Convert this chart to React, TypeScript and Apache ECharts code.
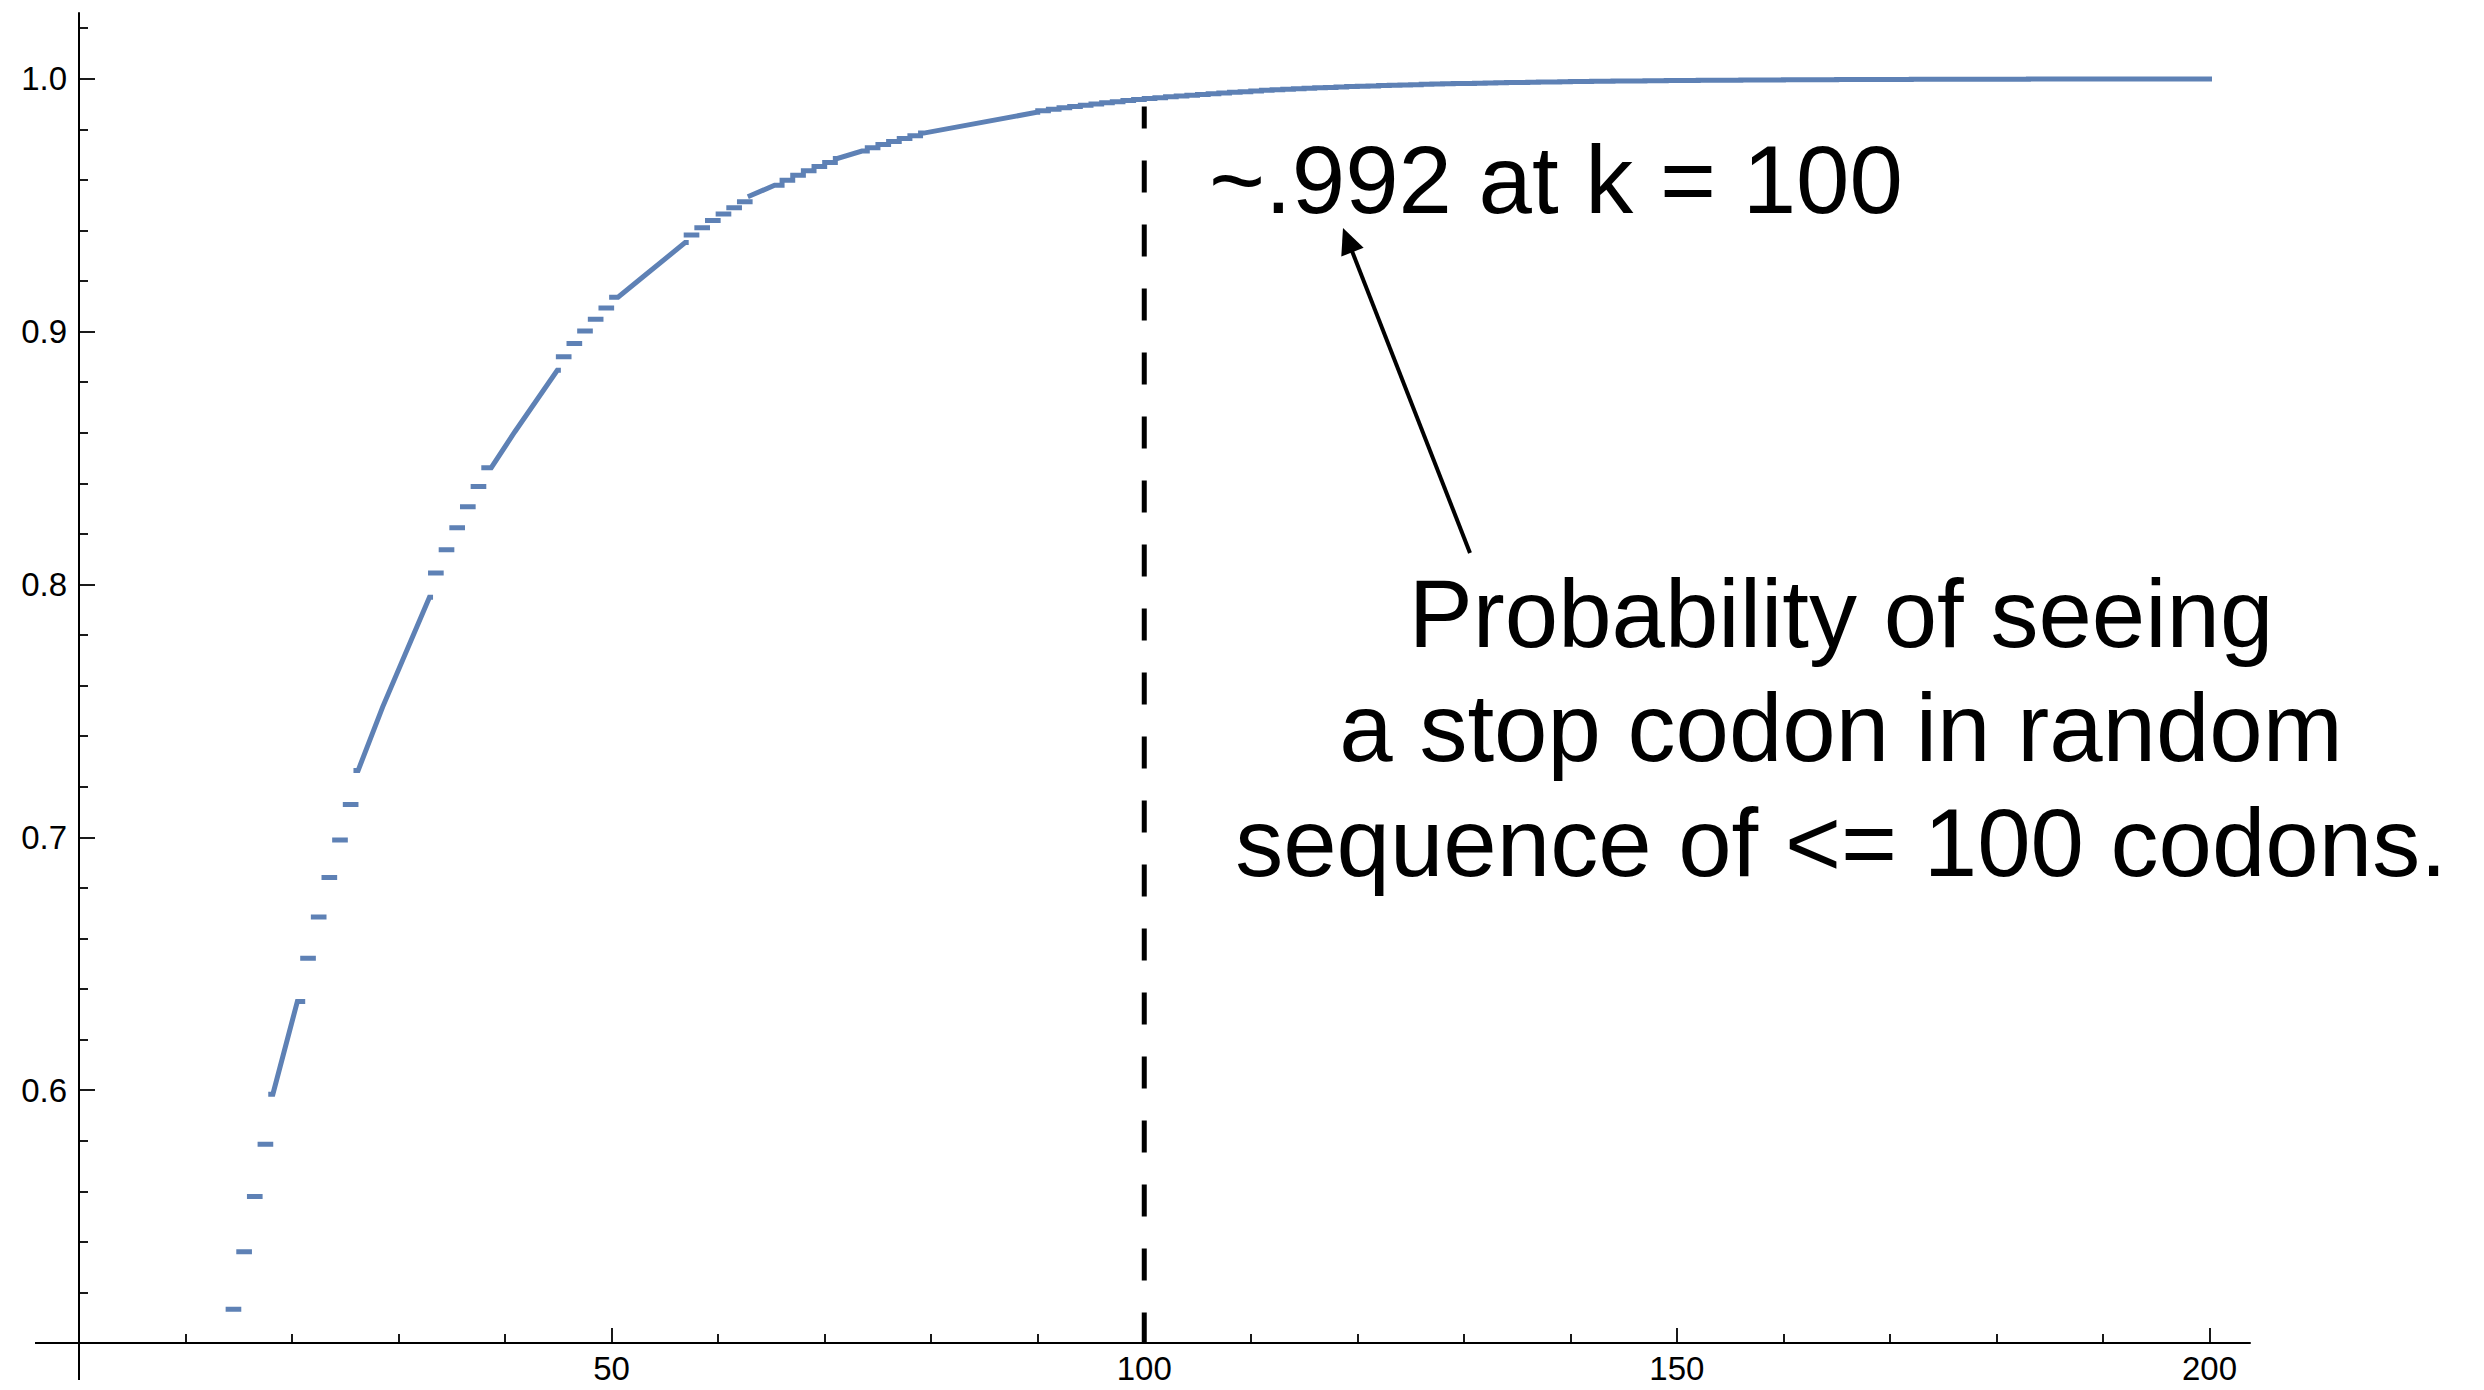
import { useEffect, useRef } from "react";
import * as echarts from "echarts";

// Probability that a random sequence of k codons contains a stop codon, k = 15 … 200
const K_FIRST = 15;
const STOP_PROB = [
  0.5133, 0.5361, 0.5579, 0.5786, 0.5984, 0.6172, 0.6351, 0.6522, 0.6685, 0.6841,
  0.6989, 0.713, 0.7264, 0.7393, 0.7515, 0.7631, 0.7742, 0.7848, 0.7949, 0.8045,
  0.8137, 0.8224, 0.8307, 0.8387, 0.8462, 0.8534, 0.8603, 0.8669, 0.8731, 0.8791,
  0.8847, 0.8901, 0.8953, 0.9002, 0.9049, 0.9093, 0.9136, 0.9176, 0.9215, 0.9252,
  0.9287, 0.932, 0.9352, 0.9382, 0.9411, 0.9439, 0.9465, 0.949, 0.9514, 0.9537,
  0.9559, 0.9579, 0.9599, 0.9618, 0.9636, 0.9653, 0.9669, 0.9685, 0.9699, 0.9714,
  0.9727, 0.974, 0.9752, 0.9764, 0.9775, 0.9785, 0.9795, 0.9805, 0.9814, 0.9823,
  0.9831, 0.9839, 0.9847, 0.9854, 0.9861, 0.9867, 0.9873, 0.9879, 0.9885, 0.989,
  0.9895, 0.99, 0.9905, 0.9909, 0.9914, 0.9918, 0.9922, 0.9925, 0.9929, 0.9932,
  0.9935, 0.9938, 0.9941, 0.9944, 0.9947, 0.9949, 0.9952, 0.9954, 0.9956, 0.9958,
  0.996, 0.9962, 0.9964, 0.9965, 0.9967, 0.9969, 0.997, 0.9971, 0.9973, 0.9974,
  0.9975, 0.9976, 0.9978, 0.9979, 0.998, 0.9981, 0.9981, 0.9982, 0.9983, 0.9984,
  0.9985, 0.9985, 0.9986, 0.9987, 0.9987, 0.9988, 0.9989, 0.9989, 0.999, 0.999,
  0.9991, 0.9991, 0.9991, 0.9992, 0.9992, 0.9993, 0.9993, 0.9993, 0.9994, 0.9994,
  0.9994, 0.9994, 0.9995, 0.9995, 0.9995, 0.9995, 0.9996, 0.9996, 0.9996, 0.9996,
  0.9996, 0.9997, 0.9997, 0.9997, 0.9997, 0.9997, 0.9997, 0.9997, 0.9998, 0.9998,
  0.9998, 0.9998, 0.9998, 0.9998, 0.9998, 0.9998, 0.9998, 0.9998, 0.9998, 0.9999,
  0.9999, 0.9999, 0.9999, 0.9999, 0.9999, 0.9999, 0.9999, 0.9999, 0.9999, 0.9999,
  0.9999, 0.9999, 0.9999, 0.9999, 0.9999, 0.9999,
];

// Stretches where the plotted curve runs straight across several steps
// (sample positions along k); elsewhere each step is drawn on its own.
const JOINED_SPANS = [
  [18.2, 20.5],
  [26.2, 28.5, 32.9],
  [38.7, 40.9, 44.9],
  [50.6, 52.9, 56.9],
  [63.05, 65.3],
  [71.2, 73.5],
  [79.3, 89.9],
];

const X_RANGE = [0, 203.8];
const Y_RANGE = [0.5, 1.026];
const X_AXIS_TAIL = -4.13; // x-axis continues a little left of the y-axis
const Y_AXIS_TAIL = 0.4854; // y-axis continues a little below the x-axis
const X_MAJOR = [50, 100, 150, 200];
const X_MINOR = [10, 20, 30, 40, 60, 70, 80, 90, 110, 120, 130, 140, 160, 170, 180, 190];
const Y_MAJOR = [0.6, 0.7, 0.8, 0.9, 1.0];
const Y_MINOR = [
  0.52, 0.54, 0.56, 0.58, 0.62, 0.64, 0.66, 0.68, 0.72, 0.74, 0.76, 0.78,
  0.82, 0.84, 0.86, 0.88, 0.92, 0.94, 0.96, 0.98, 1.02,
];

const MARKER_K = 100;
const MARKER_TOP = 0.989;

const NOTE_VALUE = "~.992 at k = 100";
const NOTE_LINES = [
  "Probability of seeing",
  "a stop codon in random",
  "sequence of <= 100 codons.",
];

const FONT = '"Liberation Sans", Arial, Helvetica, sans-serif';
const CURVE_COLOR = "#5E81B5";

function buildCurve() {
  const pts: (number[] | string)[] = [];
  const kLast = K_FIRST + STOP_PROB.length - 1;
  const probAt = (k: number) => STOP_PROB[k - K_FIRST];
  const valueAt = (x: number) => probAt(Math.ceil(x - 1e-9));
  let k = K_FIRST;
  while (k <= kLast) {
    const span = JOINED_SPANS.find((s) => Math.ceil(s[0]) === k);
    if (span) {
      pts.push([k - 1, probAt(k)]);
      span.forEach((x) => pts.push([x, valueAt(x)]));
      const end = Math.ceil(span[span.length - 1]);
      pts.push([end, probAt(end)]);
      k = end + 1;
    } else {
      pts.push([k - 1, probAt(k)], [k, probAt(k)]);
      k += 1;
    }
    pts.push("-");
  }
  return pts;
}

const axisText = { color: "#000", fontSize: 33, fontFamily: FONT };
const axisLine = { lineStyle: { color: "#000", width: 2 } };

function xAxis(values: number[], major: boolean) {
  return {
    type: "value",
    min: X_RANGE[0],
    max: X_RANGE[1],
    position: "bottom",
    axisLine: { show: major, onZero: false, ...axisLine },
    axisTick: {
      show: true,
      inside: true,
      length: major ? 15 : 9,
      customValues: values,
      lineStyle: { color: "#000", width: 1.8 },
    },
    axisLabel: major
      ? { show: true, customValues: values, margin: 10, lineHeight: 30, ...axisText }
      : { show: false },
    splitLine: { show: false },
    minorTick: { show: false },
  };
}

function yAxis(values: number[], major: boolean) {
  return {
    type: "value",
    min: Y_RANGE[0],
    max: Y_RANGE[1],
    position: "left",
    axisLine: { show: major, onZero: false, ...axisLine },
    axisTick: {
      show: true,
      inside: true,
      length: major ? 16 : 9,
      customValues: values,
      lineStyle: { color: "#000", width: 1.8 },
    },
    axisLabel: major
      ? {
          show: true,
          customValues: values,
          margin: 12,
          formatter: (v: number) => v.toFixed(1),
          ...axisText,
        }
      : { show: false },
    splitLine: { show: false },
    minorTick: { show: false },
  };
}

export default function App() {
  const ref = useRef<HTMLDivElement>(null);

  useEffect(() => {
    const chart = echarts.init(ref.current!, null, { renderer: "svg" });
    chart.setOption({
      animation: false,
      backgroundColor: "#fff",
      grid: { left: 79, right: 234, top: 13, bottom: 47, containLabel: false, outerBoundsMode: "none" },
      xAxis: [xAxis(X_MAJOR, true), xAxis(X_MINOR, false)],
      yAxis: [yAxis(Y_MAJOR, true), yAxis(Y_MINOR, false)],
      series: [
        {
          type: "line",
          xAxisIndex: 0,
          yAxisIndex: 0,
          data: [
            [MARKER_K, MARKER_TOP],
            [MARKER_K, Y_RANGE[0]],
          ],
          showSymbol: false,
          symbol: "none",
          silent: true,
          lineStyle: { color: "#000", width: 5, type: [32, 32], dashOffset: 10, cap: "butt" },
          z: 2,
        },
        {
          type: "line",
          xAxisIndex: 0,
          yAxisIndex: 0,
          data: buildCurve(),
          connectNulls: false,
          showSymbol: false,
          symbol: "none",
          silent: true,
          lineStyle: { color: CURVE_COLOR, width: 5, cap: "square", join: "miter" },
          z: 3,
        },
      ],
    });

    const toPx = (p: number[]) => chart.convertToPixel({ gridIndex: 0 }, p) as number[];
    const origin = toPx([X_RANGE[0], Y_RANGE[0]]);
    const xTail = toPx([X_AXIS_TAIL, Y_RANGE[0]]);
    const yTail = toPx([X_RANGE[0], Y_AXIS_TAIL]);

    // arrow from the caption up to the value label
    const tailPt = [1470, 553];
    const tipPt = [1343, 228];
    const dx = tipPt[0] - tailPt[0];
    const dy = tipPt[1] - tailPt[1];
    const len = Math.hypot(dx, dy);
    const ux = dx / len;
    const uy = dy / len;
    const headLen = 26;
    const headHalf = 12;
    const bx = tipPt[0] - ux * headLen;
    const by = tipPt[1] - uy * headLen;

    chart.setOption({
      graphic: [
        {
          type: "line",
          z: 50,
          shape: { x1: origin[0], y1: origin[1], x2: yTail[0], y2: yTail[1] },
          style: { stroke: "#000", lineWidth: 2 },
        },
        {
          type: "line",
          z: 50,
          shape: { x1: origin[0] + 1, y1: origin[1], x2: xTail[0], y2: xTail[1] },
          style: { stroke: "#000", lineWidth: 2 },
        },
        {
          type: "line",
          z: 50,
          shape: { x1: tailPt[0], y1: tailPt[1], x2: bx + ux * 2, y2: by + uy * 2 },
          style: { stroke: "#000", lineWidth: 4 },
        },
        {
          type: "polygon",
          z: 50,
          shape: {
            points: [
              [tipPt[0], tipPt[1]],
              [bx - uy * headHalf, by + ux * headHalf],
              [bx + uy * headHalf, by - ux * headHalf],
            ],
          },
          style: { fill: "#000" },
        },
        {
          type: "text",
          z: 50,
          x: 1209,
          y: 179,
          style: {
            text: NOTE_VALUE,
            fill: "#000",
            font: `96px ${FONT}`,
            textAlign: "left",
            textVerticalAlign: "middle",
          },
        },
        ...NOTE_LINES.map((line, i) => ({
          type: "text",
          z: 50,
          x: 1841,
          y: [613, 727, 842][i],
          style: {
            text: line,
            fill: "#000",
            font: `96px ${FONT}`,
            textAlign: "center",
            textVerticalAlign: "middle",
          },
        })),
      ],
    });

    return () => chart.dispose();
  }, []);

  return (
    <div
      ref={ref}
      style={{ position: "fixed", left: 0, top: 0, width: 2484, height: 1390, background: "#fff" }}
    />
  );
}
